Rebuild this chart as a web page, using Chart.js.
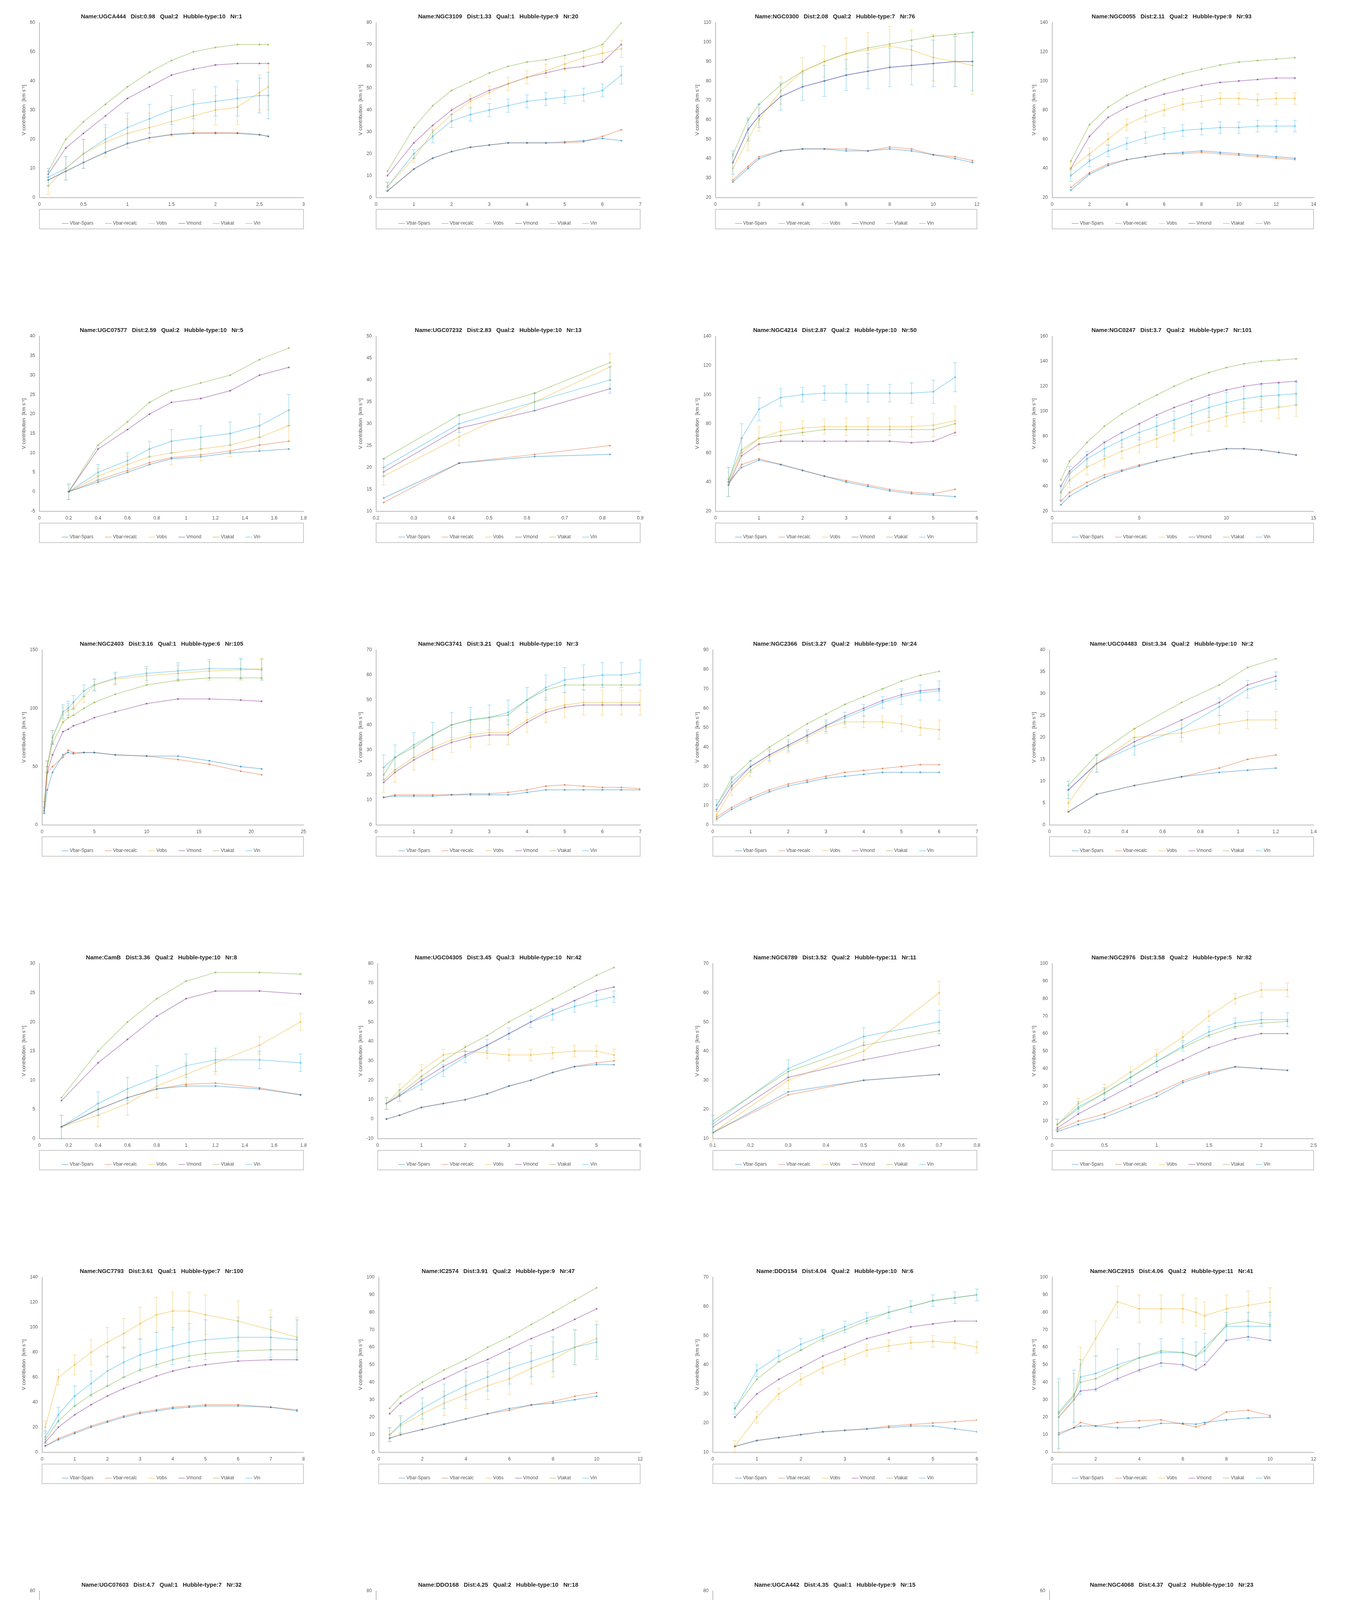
<!DOCTYPE html>
<html><head><meta charset="utf-8">
<script src="https://cdn.jsdelivr.net/npm/chart.js@4"></script>
<style>
body{margin:0;background:#fff;width:3446px;height:4732px;position:relative;overflow:hidden}
canvas{position:absolute}
</style></head><body>
<script>
// panel titles
var titles = [
 'Name:UGCA444   Dist:0.98   Qual:2   Hubble-type:10   Nr:1',
 'Name:NGC3109   Dist:1.33   Qual:1   Hubble-type:9   Nr:20',
 'Name:NGC0300   Dist:2.08   Qual:2   Hubble-type:7   Nr:76',
 'Name:NGC0055   Dist:2.11   Qual:2   Hubble-type:9   Nr:93',
 'Name:UGC07577   Dist:2.59   Qual:2   Hubble-type:10   Nr:5',
 'Name:UGC07232   Dist:2.83   Qual:2   Hubble-type:10   Nr:13',
 'Name:NGC4214   Dist:2.87   Qual:2   Hubble-type:10   Nr:50',
 'Name:NGC0247   Dist:3.7   Qual:2   Hubble-type:7   Nr:101',
 'Name:NGC2403   Dist:3.16   Qual:1   Hubble-type:6   Nr:105',
 'Name:NGC3741   Dist:3.21   Qual:1   Hubble-type:10   Nr:3',
 'Name:NGC2366   Dist:3.27   Qual:2   Hubble-type:10   Nr:24',
 'Name:UGC04483   Dist:3.34   Qual:2   Hubble-type:10   Nr:2',
 'Name:CamB   Dist:3.36   Qual:2   Hubble-type:10   Nr:8',
 'Name:UGC04305   Dist:3.45   Qual:3   Hubble-type:10   Nr:42',
 'Name:NGC6789   Dist:3.52   Qual:2   Hubble-type:11   Nr:11',
 'Name:NGC2976   Dist:3.58   Qual:2   Hubble-type:5   Nr:82',
 'Name:NGC7793   Dist:3.61   Qual:1   Hubble-type:7   Nr:100',
 'Name:IC2574   Dist:3.91   Qual:2   Hubble-type:9   Nr:47',
 'Name:DDO154   Dist:4.04   Qual:2   Hubble-type:10   Nr:6',
 'Name:NGC2915   Dist:4.06   Qual:2   Hubble-type:11   Nr:41',
 'Name:UGC07603   Dist:4.7   Qual:1   Hubble-type:7   Nr:32',
 'Name:DDO168   Dist:4.25   Qual:2   Hubble-type:10   Nr:18',
 'Name:UGCA442   Dist:4.35   Qual:1   Hubble-type:9   Nr:15',
 'Name:NGC4068   Dist:4.37   Qual:2   Hubble-type:10   Nr:23'
];
var seriesNames = ['Vbar-Spars','Vbar-recalc','Vobs','Vmond','Vtakat','Vin'];
var seriesColors = ['rgba(0,114,189,0.4)','rgba(217,83,25,0.4)','rgba(237,177,32,0.45)','rgba(126,47,142,0.45)','rgba(119,172,48,0.45)','rgba(77,190,238,0.55)'];

// axis limits: [xmin,xmax,xstep,ymin,ymax,ystep]
var axes = [
 [0,3,0.5,0,60,10],[0,7,1,0,80,10],[0,12,2,20,110,10],[0,14,2,20,140,20],
 [0,1.8,0.2,-5,40,5],[0.2,0.9,0.1,10,50,5],[0,6,1,20,140,20],[0,15,5,20,160,20],
 [0,25,5,0,150,50],[0,7,1,0,70,10],[0,7,1,0,90,10],[0,1.4,0.2,0,40,5],
 [0,1.8,0.2,0,30,5],[0,6,1,-10,80,10],[0.1,0.8,0.1,10,70,10],[0,2.5,0.5,0,100,10],
 [0,8,1,0,140,20],[0,12,2,0,100,10],[0,6,1,10,70,10],[0,12,2,0,100,10],
 [0,4.5,0.5,10,80,10],[0,4.5,0.5,10,80,10],[0,7,1,0,80,10],[0,2.5,0.5,0,60,10]
];

var radii = [
 [0.1,0.3,0.5,0.75,1,1.25,1.5,1.75,2,2.25,2.5,2.6],
 [0.3,1,1.5,2,2.5,3,3.5,4,4.5,5,5.5,6,6.5],
 [0.8,1.5,2,3,4,5,6,7,8,9,10,11,11.8],
 [1,2,3,4,5,6,7,8,9,10,11,12,13],
 [0.2,0.4,0.6,0.75,0.9,1.1,1.3,1.5,1.7],
 [0.22,0.42,0.62,0.82],
 [0.3,0.6,1,1.5,2,2.5,3,3.5,4,4.5,5,5.5],
 [0.5,1,2,3,4,5,6,7,8,9,10,11,12,13,14],
 [0.2,0.5,1,2,2.5,3,4,5,7,10,13,16,19,21],
 [0.2,0.5,1,1.5,2,2.5,3,3.5,4,4.5,5,5.5,6,6.5,7],
 [0.1,0.5,1,1.5,2,2.5,3,3.5,4,4.5,5,5.5,6],
 [0.1,0.25,0.45,0.7,0.9,1.05,1.2],
 [0.15,0.4,0.6,0.8,1.0,1.2,1.5,1.78],
 [0.2,0.5,1,1.5,2,2.5,3,3.5,4,4.5,5,5.4],
 [0.1,0.3,0.5,0.7],
 [0.05,0.25,0.5,0.75,1,1.25,1.5,1.75,2,2.25],
 [0.1,0.5,1,1.5,2,2.5,3,3.5,4,4.5,5,6,7,7.8],
 [0.5,1,2,3,4,5,6,7,8,9,10],
 [0.5,1,1.5,2,2.5,3,3.5,4,4.5,5,5.5,6],
 [0.3,1,1.3,2,3,4,5,6,6.6,7,8,9,10],
 [0.3,0.6,1,1.5,2,2.5,3,3.5,4],
 [0.4,0.8,1.2,1.6,2,2.4,2.8,3.2,3.6,4.1],
 [0.5,1,1.5,2,2.5,3,3.5,4,4.5,5,5.5,6.3],
 [0.1,0.5,1,1.5,2,2.35]
];

var vbarSpars = [
 [6,9,12,15.5,18.5,20.5,21.5,22,22,22,21.5,21],
 [3,13,18,21,23,24,25,25,25,25.5,26,27,26],
 [28,35,40,44,45,45,44,44,45,44,42,40,38],
 [25,36,42,46,48,50,51,52,51,50,49,48,47],
 [0,2.5,5,7,8.5,9,10,10.5,11],
 [13,21,22.5,23],
 [40,50,55,52,48,44,40,37,34,32,31,30],
 [25,32,40,47,52,56,60,63,66,68,70,70,69,67,65],
 [10,30,45,60,62,61,62,62,60,59,59,55,50,48],
 [11,11.5,11.5,11.5,12,12,12,12,13,14,14,14,14,14,14],
 [3,8,13,17,20,22,24,25,26,27,27,27,27],
 [3,7,9,11,12,12.5,13],
 [2,5,7,8.5,9,9,8.5,7.5],
 [0,2,6,8,10,13,17,20,24,27,28,28],
 [12,26,30,32],
 [4,8,12,18,24,32,37,41,40,39],
 [5,10,15,20,24,28,31,33,35,36,37,37,36,33],
 [8,10,13,16,19,22,25,27,28,30,32],
 [12,14,15,16,17,17.5,18,18.5,19,19,18,17],
 [10,14,15,15,14,14,16.5,16.5,16,17,18.5,19.5,20],
 [13,20,22,24,24,24,23,23,22],
 [15,22,25,26,27,28,28,28,28,28],
 [10,18,23,26,28,29,29,28,27,26,25,23],
 [3,7,11,15,19,21]
];
var vbarRecalc = [
 [6,9,12,15.5,18.5,20.5,21.7,22.2,22.3,22.2,21.6,21],
 [3,13,18,21,23,24,25,25,25,25,25.5,28,31],
 [29,36,41,44,45,45,45,44,46,45,42,41,39],
 [27,37,43,46,48,50,50,51,50,49,48,47,46],
 [0,3,5.5,7.5,8.8,9.5,10.5,12,13],
 [12,21,23,25],
 [38,52,56,52,48,44,41,38,35,33,32,35],
 [28,35,43,49,53,57,60,63,66,68,70,70,69,67,65],
 [12,45,50,58,64,62,62,62,60,59,56,52,46,43],
 [11,12,12,12,12,12.5,12.5,13,14,15.5,16,15.5,15,15,14.5],
 [4,9,14,18,21,23,25,27,28,29,30,31,31],
 [3,7,9,11,13,15,16],
 [2,5,7,8.5,9.3,9.5,8.7,7.5],
 [0,2,6,8,10,13,17,20,24,27,29,30],
 [12,25,30,32],
 [5,10,14,20,26,33,38,41,40,39],
 [5,11,16,21,25,29,32,34,36,37,38,38,36,34],
 [8,10,13,16,19,22,24,27,29,32,34],
 [12,14,15,16,17,17.5,18,19,19.5,20,20.5,21],
 [11,14,17,15,17,18,18.5,16,14.5,16,23,24,21],
 [15,22,24,26,26,25,26,27,27],
 [15,23,26,27,28,29,30,31,31,31],
 [10,18,23,26,28,29,29,28,27,26,25,23],
 [3,7,11,15,19,21]
];
var vobs = [
 [4,10,15,19,22,24,26,28,30,31,36,38],
 [5,18,30,38,44,48,52,55,58,61,64,66,68],
 [35,50,60,75,85,90,94,96,98,96,92,90,88],
 [40,50,60,70,76,80,84,86,88,88,87,88,88],
 [0,4,7,9,10,11,12,14,17],
 [18,27,35,43],
 [40,60,70,75,77,78,78,78,78,78,79,82],
 [35,45,55,62,68,73,78,83,88,92,96,99,101,103,105],
 [15,50,75,95,98,100,110,120,125,128,130,132,133,134],
 [18,22,27,31,34,36,37,37,42,46,48,49,49,49,49],
 [5,18,28,35,40,45,50,53,53,53,52,50,49],
 [5,14,20,21,23,24,24],
 [2,4,6,9,11,13,16,20],
 [8,15,25,33,35,34,33,33,34,35,35,33],
 [12,30,40,60],
 [8,20,28,38,48,58,70,80,85,85],
 [20,60,70,80,88,95,103,110,113,113,110,105,98,92],
 [10,15,22,28,33,38,42,48,53,60,65],
 [12,22,30,35,39,42,45,46.5,47.5,48,47.5,46],
 [20,30,50,65,86,82,82,82,80,78,82,84,86],
 [17,35,45,55,60,60,60,62,65],
 [20,30,38,42,45,48,50,53,55,55],
 [12,30,40,47,51,54,55,56,56,56,55,54],
 [5,13,22,31,38,43]
];
var vmond = [
 [8,17,22,28,34,38,42,44,45.5,46,46,46],
 [10,25,33,40,45,49,52,55,57,59,60,62,70],
 [38,55,62,72,77,80,83,85,87,88,89,90,90],
 [40,62,75,82,87,91,94,97,99,100,101,102,102],
 [0,11,16,20,23,24,26,30,32],
 [19,29,33,38],
 [38,58,66,68,68,68,68,68,68,67,68,74],
 [40,52,65,75,83,90,97,103,108,113,117,120,122,123,124],
 [12,45,60,80,82,85,88,92,97,104,108,108,107,106],
 [17,21,26,30,33,35,36,36,41,45,47,48,48,48,48],
 [8,20,30,36,41,46,51,56,60,64,67,69,70],
 [8,14,19,24,28,32,34],
 [6.5,13,17,21,24,25.3,25.3,24.8],
 [8,12,20,27,33,38,44,50,56,61,66,68],
 [14,31,37,42],
 [6,14,22,30,38,45,52,57,60,60],
 [8,20,30,38,45,51,56,61,65,68,70,73,74,74],
 [22,28,36,42,48,53,59,65,70,76,82],
 [22,30,35,39,43,46,49,51,53,54,55,55],
 [20,30,35,36,42,47,51,50,47,50,64,66,64],
 [25,37,42,45,47,50,52,55,58],
 [25,35,42,46,50,54,57,60,61,62],
 [15,33,43,50,54,57,58,59,60,60,59,58],
 [8,16,25,34,41,45]
];
var vtakat = [
 [9,20,26,32,38,43,47,50,51.5,52.5,52.5,52.5],
 [12,32,42,49,53,57,60,62,63,65,67,70,80],
 [42,60,68,78,85,90,94,97,99,101,103,104,105],
 [45,70,82,90,96,101,105,108,111,113,114,115,116],
 [0,12,18,23,26,28,30,34,37],
 [22,32,37,44],
 [42,62,70,72,74,76,76,76,76,76,76,80],
 [45,60,75,88,98,106,113,120,126,131,135,138,140,141,142],
 [14,50,70,88,92,94,100,105,112,120,124,126,126,126],
 [20,27,31,36,40,42,43,44,50,54,56,56,56,56,56],
 [10,24,33,40,46,52,57,62,66,70,74,77,79],
 [9,16,22,28,32,36,38],
 [7,15,20,24,27,28.5,28.5,28.2],
 [8,13,22,30,37,43,50,56,62,68,74,78],
 [16,33,42,47],
 [8,17,26,35,44,52,59,64,66,67],
 [10,25,37,46,53,60,66,70,74,77,79,81,82,82],
 [25,32,40,47,53,60,66,73,80,87,94],
 [25,35,41,45,49,52,55,58,60,62,63,64],
 [23,33,40,42,48,54,58,57,55,58,73,75,73],
 [28,40,47,53,56,58,60,62,65],
 [28,40,48,53,57,61,64,67,69,71],
 [20,38,50,57,62,65,67,68,69,69,69,68],
 [10,20,30,39,46,51]
];
var vin = [
 [7,10,15,20,24,27,30,32,33,34,35,35],
 [5,20,28,35,38,40,42,44,45,46,47,49,56],
 [38,55,62,72,77,80,83,85,87,88,89,90,90],
 [35,45,52,57,61,64,66,67,68,68,69,69,69],
 [0,5,8,11,13,14,15,17,21],
 [20,30,35,40],
 [40,70,90,98,100,101,101,101,101,101,102,112],
 [35,50,62,70,77,83,88,93,98,103,107,110,112,113,114],
 [15,50,75,97,100,105,115,120,126,130,132,134,134,133],
 [23,27,32,36,40,42,43,45,50,55,58,59,60,60,61],
 [10,22,30,36,41,46,51,55,59,63,66,68,69],
 [8,14,18,22,27,31,33],
 [2,6,8.5,10.5,12.5,13.5,13.5,13],
 [8,12,18,25,32,38,44,50,54,58,61,63],
 [15,34,45,50],
 [8,18,26,35,44,53,61,66,68,68],
 [12,30,45,55,65,72,78,82,85,88,90,92,92,90],
 [10,16,25,32,38,43,48,52,56,60,63],
 [25,38,43,47,50,53,56,58,60,62,63,64],
 [22,32,43,45,50,54,57,57,55,60,72,72,72],
 [25,38,45,50,53,55,58,60,62],
 [20,30,37,42,46,49,52,55,57,58],
 [18,35,45,51,55,57,58,59,60,60,59,59],
 [6,14,22,30,37,41]
];
// observational uncertainty drawn on Vobs and Vin
var verr = [
 [3,4,5,5,5,5,5,5,5,6,6,8],
 [2,2,3,3,3,3,3,3,3,3,3,3,4],
 [6,6,6,7,7,8,8,9,10,10,12,13,15],
 [4,4,4,4,4,4,4,4,4,4,4,4,4],
 [2,2,2,2,3,3,3,3,4],
 [2,2,2,3],
 [10,10,8,6,5,5,6,6,6,7,8,10],
 [6,6,6,6,6,6,7,7,7,8,8,8,9,9,9],
 [5,5,6,6,6,6,5,5,5,6,7,8,9,9],
 [5,5,5,5,5,5,5,5,5,5,5,5,5,5,5],
 [3,3,3,3,3,3,3,3,3,3,4,4,5],
 [2,2,2,2,2,2,2],
 [2,2,2,2,2,2,1.5,1.5],
 [3,3,3,3,3,3,3,3,3,3,3,3],
 [3,3,3,4],
 [3,3,3,3,3,3,3,3,4,4],
 [5,6,8,10,12,12,13,14,15,15,16,16,16,16],
 [4,5,6,7,8,8,9,9,10,10,10],
 [2,2,2,2,2,2,2,2,2,2,2,2],
 [20,15,10,10,9,8,8,8,8,8,8,8,8],
 [3,4,4,4,4,4,4,4,4],
 [4,4,4,4,4,4,4,4,4,4],
 [4,4,4,4,4,4,4,4,4,4,4,4],
 [2,3,3,3,3,3]
];

var errPlugin = {
  id: 'errbars',
  afterDatasetsDraw: function(chart) {
    var ctx = chart.ctx, ys = chart.scales.y;
    chart.data.datasets.forEach(function(ds, di) {
      if (!ds.errs) return;
      var meta = chart.getDatasetMeta(di);
      ctx.save();
      ctx.strokeStyle = ds.borderColor;
      ctx.lineWidth = 1.5;
      meta.data.forEach(function(pt, i) {
        var v = ds.data[i].y, e = ds.errs[i];
        var y1 = ys.getPixelForValue(v - e), y2 = ys.getPixelForValue(v + e);
        ctx.beginPath();
        ctx.moveTo(pt.x, y1); ctx.lineTo(pt.x, y2);
        ctx.moveTo(pt.x - 5, y1); ctx.lineTo(pt.x + 5, y1);
        ctx.moveTo(pt.x - 5, y2); ctx.lineTo(pt.x + 5, y2);
        ctx.stroke();
      });
      ctx.restore();
    });
  }
};
var legendBox = {
  id: 'legendBox',
  afterDraw: function(chart) {
    var l = chart.legend, ctx = chart.ctx;
    ctx.save();
    ctx.strokeStyle = '#c8c8c8';
    ctx.lineWidth = 2;
    ctx.strokeRect(chart.chartArea.left, l.top + 2, chart.chartArea.right - chart.chartArea.left, l.height - 4);
    ctx.restore();
  }
};

Chart.defaults.font.family = 'Liberation Sans, Arial, sans-serif';
Chart.defaults.color = '#555';

function tickFmt(v) { return String(Math.round(v * 100) / 100); }

var panelW = 862;
titles.forEach(function(title, p) {
  var cv = document.createElement('canvas');
  cv.width = panelW; cv.height = 620;
  cv.style.left = (p % 4) * panelW + 'px';
  cv.style.top = Math.floor(p / 4) * 803 + 'px';
  document.body.appendChild(cv);
  var series = [vbarSpars, vbarRecalc, vobs, vmond, vtakat, vin];
  var a = axes[p];
  var datasets = series.map(function(s, k) {
    return {
      label: seriesNames[k],
      data: radii[p].map(function(x, i) { return {x: x, y: s[p][i]}; }),
      borderColor: seriesColors[k],
      backgroundColor: seriesColors[k],
      borderWidth: 2,
      pointRadius: 1.5,
      showLine: true,
      errs: (k === 2 || k === 5) ? verr[p] : null
    };
  });
  new Chart(cv, {
    type: 'scatter',
    data: { datasets: datasets },
    options: {
      responsive: false,
      devicePixelRatio: 1,
      animation: false,
      layout: { padding: { left: 50, right: 85, top: 6, bottom: 32 } },
      plugins: {
        title: { display: true, text: title, color: '#222', font: { size: 15, weight: 'bold' }, padding: { top: 28, bottom: 6 } },
        legend: {
          position: 'bottom',
          labels: { usePointStyle: true, pointStyle: 'line', boxWidth: 30, font: { size: 12 }, padding: 32, color: '#555' }
        },
        tooltip: { enabled: false }
      },
      scales: {
        x: {
          type: 'linear', min: a[0], max: a[1],
          grid: { display: false },
          border: { color: '#bbb', width: 2 },
          ticks: { stepSize: a[2], font: { size: 12 }, color: '#555', callback: tickFmt }
        },
        y: {
          min: a[3], max: a[4],
          grid: { display: false },
          border: { color: '#bbb', width: 2 },
          ticks: { stepSize: a[5], font: { size: 12 }, color: '#555', callback: tickFmt },
          title: { display: true, text: 'V contribution  [km s\u207B\u00B9]', font: { size: 13 }, color: '#555' }
        }
      }
    },
    plugins: [errPlugin, legendBox]
  });
});
</script>
</body></html>
